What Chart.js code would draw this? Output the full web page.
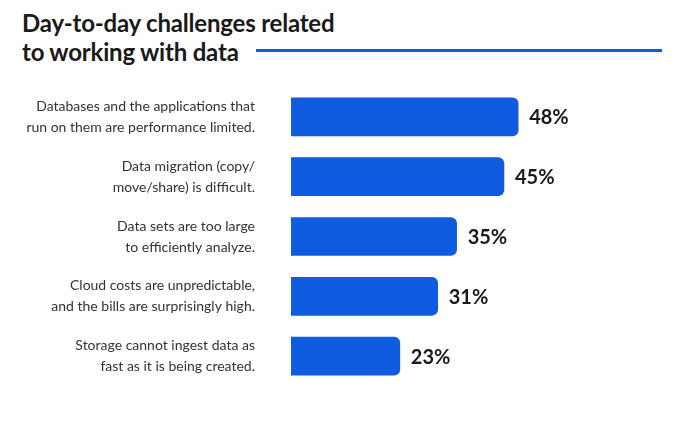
<!DOCTYPE html>
<html><head><meta charset="utf-8">
<script src="https://cdn.jsdelivr.net/npm/chart.js@4"></script>
<style>
body{margin:0;background:#fff;width:680px;height:435px;overflow:hidden;position:relative;font-family:Lato,"Open Sans",sans-serif}
#t{position:absolute;left:22px;top:8px;font-size:24px;font-weight:700;color:#1a1a1a;line-height:29px;letter-spacing:-0.2px}
#ln{position:absolute;left:256px;top:49px;width:406px;height:3px;background:#0f5ce0}
canvas{position:absolute;left:0;top:0}
</style></head><body>
<div id="t">Day-to-day challenges related<br>to working with data</div>
<div id="ln"></div>
<canvas id="c" width="680" height="435"></canvas>
<script>
const categories=[
 ["Databases and the applications that","run on them are performance limited."],
 ["Data migration (copy/","move/share) is difficult."],
 ["Data sets are too large","to efficiently analyze."],
 ["Cloud costs are unpredictable,","and the bills are surprisingly high."],
 ["Storage cannot ingest data as","fast as it is being created."]
];
const values=[48,45,35,31,23];
const labelPlugin={id:'lbl',afterDatasetsDraw(ch){
 const ctx=ch.ctx;const m=ch.getDatasetMeta(0);
 ctx.save();ctx.font='700 20px Lato, sans-serif';ctx.fillStyle='#1a1a1a';ctx.textBaseline='middle';
 m.data.forEach((b,i)=>ctx.fillText(values[i]+'%',b.x+11,b.y+1));ctx.restore();}};
new Chart(document.getElementById('c'),{type:'bar',
 data:{labels:categories,datasets:[{data:values,backgroundColor:'#0f5ce0',barThickness:38,borderRadius:6,borderSkipped:'start'}]},
 options:{indexAxis:'y',responsive:false,animation:false,
  layout:{padding:{top:87,bottom:-14,right:18,left:0}},
  plugins:{legend:{display:false},tooltip:{enabled:false}},
  scales:{x:{display:false,min:0,max:78.4},
   y:{afterFit(s){s.width=291;},grid:{display:false},border:{display:false},
    ticks:{padding:28,color:'#333',font:{family:'Lato, sans-serif',size:14,lineHeight:1.5}}}}},
 plugins:[labelPlugin]});
</script></body></html>
